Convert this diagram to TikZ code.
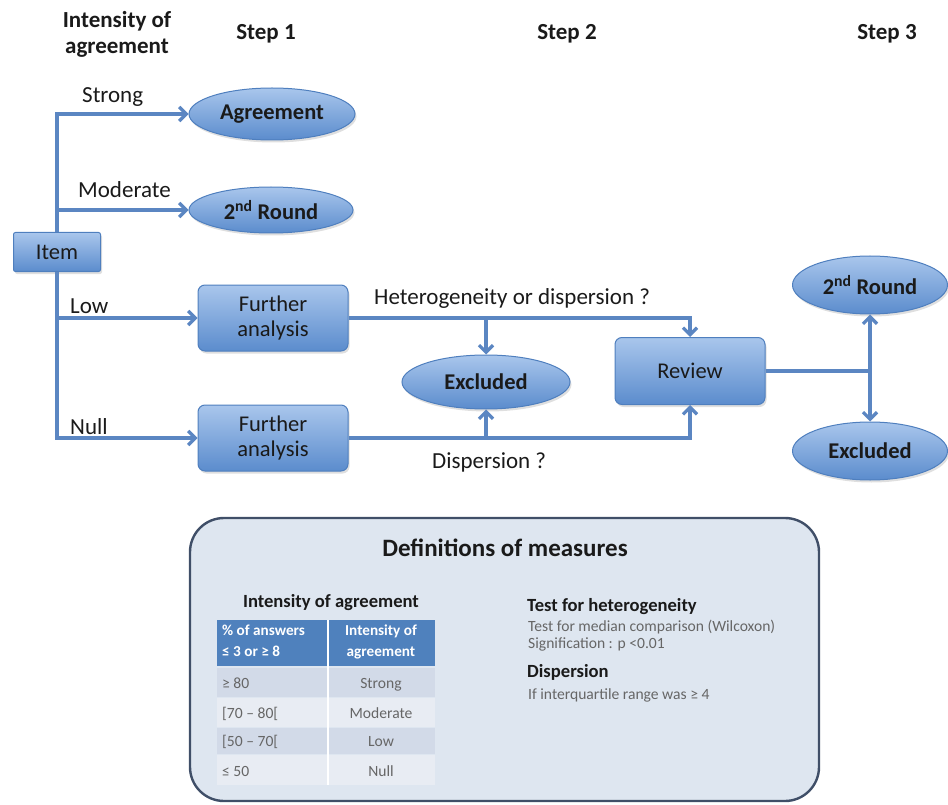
\documentclass[tikz,border=0pt]{standalone}
\usepackage{fontspec}
\setmainfont{Carlito}
\usetikzlibrary{arrows.meta,shapes.geometric,shadows}
\definecolor{lineblue}{HTML}{5B86C2}
\definecolor{topblue}{HTML}{A9C6EC}
\definecolor{botblue}{HTML}{5B8CCD}
\definecolor{edgeblue}{HTML}{4F7FBE}
\definecolor{panelfill}{HTML}{DEE6F0}
\definecolor{paneledge}{HTML}{404F68}
\definecolor{hdrblue}{HTML}{4F81BD}
\definecolor{rowdark}{HTML}{D2DAE8}
\definecolor{rowlight}{HTML}{E8ECF3}
\definecolor{greytext}{HTML}{666666}
\definecolor{darktext}{HTML}{1A1A1A}
\begin{document}
\begin{tikzpicture}[x=1pt,y=-1pt,
  blob/.style={shade, top color=topblue, bottom color=botblue, draw=edgeblue, line width=1pt,
    drop shadow={opacity=0.25,shadow xshift=1.5pt,shadow yshift=-2.5pt}},
  ebox/.style={blob, ellipse, inner sep=0pt, text=darktext, font=\fontsize{22.5}{26}\selectfont\bfseries},
  rbox/.style={blob, rectangle, rounded corners=7pt, inner sep=0pt, align=center, text=darktext,
    font=\fontsize{22.5}{25}\selectfont},
  conn/.style={draw=lineblue, line width=3.3pt},
  arr/.style={conn, -{Straight Barb[length=7pt,width=14pt]}},
  lab/.style={font=\fontsize{23}{26}\selectfont, inner sep=0pt, text=darktext},
  head/.style={font=\fontsize{23}{26}\selectfont\bfseries, align=center, inner sep=0pt, text=darktext},
  small/.style={font=\fontsize{15.6}{18}\selectfont, inner sep=0pt, text=greytext},
  smallhdr/.style={font=\fontsize{15.2}{20.5}\selectfont\bfseries, inner sep=0pt, text=white, align=left},
  subhead/.style={font=\fontsize{18.6}{22}\selectfont\bfseries, inner sep=0pt, text=darktext},
]
\useasboundingbox (0,0) rectangle (948,805);

% headers
\node[head] (hIA) at (117,34) {Intensity of\\agreement};
\node[head] (hS1) at (266,34) {Step 1};
\node[head] (hS2) at (567,34) {Step 2};
\node[head] (hS3) at (887,34) {Step 3};

% nodes
\node[rbox, rounded corners=2pt, minimum width=87pt, minimum height=39pt] (item) at (57,252) {Item};
\node[ebox, minimum width=166pt, minimum height=52pt] (agree) at (272,114) {Agreement};
\node[ebox, minimum width=164pt, minimum height=46pt] (round1) at (271,210) {2\textsuperscript{nd} Round};
\node[rbox, minimum width=150pt, minimum height=66pt] (fa1) at (273,318) {Further\\analysis};
\node[rbox, minimum width=150pt, minimum height=66pt] (fa2) at (273,438) {Further\\analysis};
\node[ebox, minimum width=168pt, minimum height=54pt] (excl1) at (486,382) {Excluded};
\node[rbox, minimum width=150pt, minimum height=67pt] (review) at (690,371) {Review};
\node[ebox, minimum width=155pt, minimum height=58pt] (round2) at (870,285) {2\textsuperscript{nd} Round};
\node[ebox, minimum width=155pt, minimum height=58pt] (excl2) at (870,451) {Excluded};

% connectors
\draw[arr] (item.north) |- (agree.west);
\draw[arr] (item.north |- round1.west) -- (round1.west);
\draw[arr] (item.south) |- (fa2.west);
\draw[arr] (item.south |- fa1.west) -- (fa1.west);
\draw[arr] (fa1.east) -| (review.north);
\draw[arr] (excl1.north |- fa1.east) -- (excl1.north);
\draw[arr] (fa2.east) -| (review.south);
\draw[arr] (excl1.south |- fa2.east) -- (excl1.south);
\coordinate (split) at (round2.south |- review.east);
\draw[conn] (review.east) -- (split);
\draw[arr] (split) -- (round2.south);
\draw[arr] (split) -- (excl2.north);

% connector labels
\node[lab, anchor=base west] (lStrong) at (82,103) {Strong};
\node[lab, anchor=base west] (lMod) at (78,198) {Moderate};
\node[lab, anchor=base west] (lLow) at (70,313) {Low};
\node[lab, anchor=base west] (lNull) at (70,434) {Null};
\node[lab, anchor=base west] (lHet) at (374,305) {Heterogeneity or dispersion ?};
\node[lab, anchor=base west] (lDisp) at (432,468) {Dispersion ?};

% definitions panel
\draw[draw=paneledge, fill=panelfill, line width=2.4pt, rounded corners=34pt] (190,518) rectangle (819,801);
\node[font=\fontsize{25}{28}\selectfont\bfseries, text=darktext, inner sep=0pt] (deftitle) at (505,548) {Definitions of measures};

% table
\node[subhead, anchor=base] (ttitle) at (331,607) {Intensity of agreement};
\fill[hdrblue] (217,620) rectangle (435,666);
\fill[rowdark] (217,668) rectangle (435,697);
\fill[rowlight] (217,698) rectangle (435,727);
\fill[rowdark] (217,728) rectangle (435,754);
\fill[rowlight] (217,755) rectangle (435,785);
\draw[white, line width=1.2pt] (328,620) -- (328,785);
\node[smallhdr, anchor=north west] (th1) at (222,625) {\% of answers\\≤ 3 or ≥ 8};
\node[smallhdr, anchor=north, align=center] (th2) at (381,625) {Intensity of\\agreement};
\node[small, anchor=base west] (r1a) at (222,688) {≥ 80};
\node[small, anchor=base] (r1b) at (381,688) {Strong};
\node[small, anchor=base west] (r2a) at (222,718) {[70 – 80[};
\node[small, anchor=base] (r2b) at (381,718) {Moderate};
\node[small, anchor=base west] (r3a) at (222,746) {[50 – 70[};
\node[small, anchor=base] (r3b) at (381,746) {Low};
\node[small, anchor=base west] (r4a) at (222,776) {≤ 50};
\node[small, anchor=base] (r4b) at (381,776) {Null};

% right column
\node[subhead, anchor=base west] (th) at (527,611) {Test for heterogeneity};
\node[small, anchor=base west] (t1) at (528,631) {Test for median comparison (Wilcoxon)};
\node[small, anchor=base west] (t2) at (528,648) {Signification : p <0.01};
\node[subhead, anchor=base west] (dh) at (527,677) {Dispersion};
\node[small, anchor=base west] (d1) at (528,699) {If interquartile range was ≥ 4};
\end{tikzpicture}
\end{document}
